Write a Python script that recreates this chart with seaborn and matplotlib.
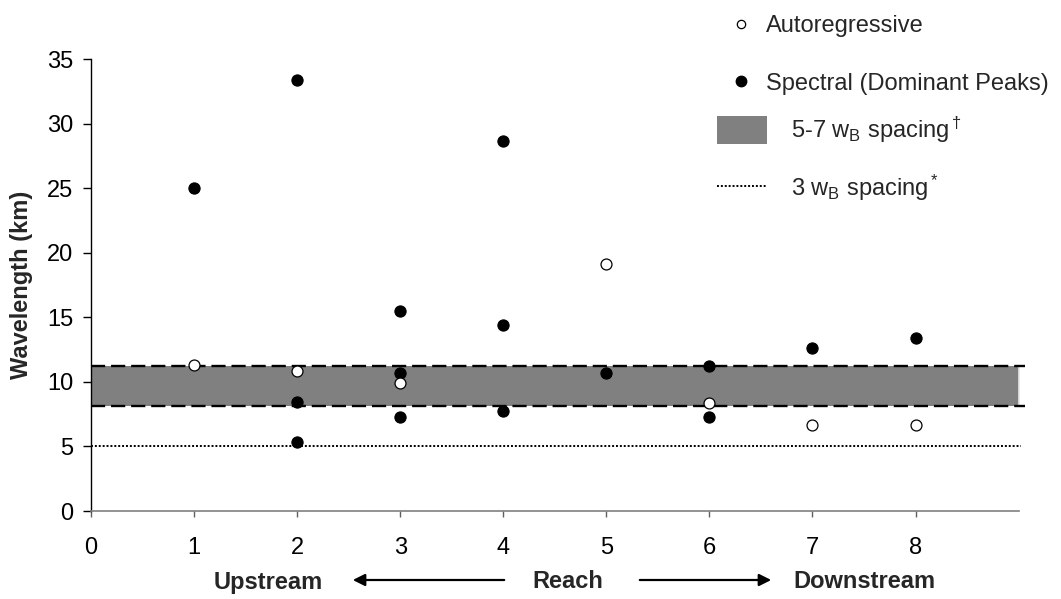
import matplotlib
matplotlib.use("Agg")
import matplotlib.pyplot as plt
import seaborn as sns
import pandas as pd
from matplotlib.lines import Line2D
from matplotlib.patches import Patch, FancyArrowPatch

# Data
reach_ar = [1, 2, 3, 5, 6, 7, 8]
wavelength_ar = [11.3, 10.85, 9.9, 19.1, 8.4, 6.65, 6.65]

reach_spec = [1, 2, 2, 2, 3, 3, 3, 4, 4, 4, 5, 6, 6, 7, 8]
wavelength_spec = [25.0, 33.4, 8.45, 5.35, 15.45, 10.65, 7.25,
                   28.65, 14.4, 7.75, 10.65, 11.25, 7.25, 12.65, 13.4]

band_low, band_high = 8.15, 11.25   # 5-7 w_B spacing
spacing_3wb = 5.0                   # 3 w_B spacing
x_extent = [0, 9]

sns.set_style("white")
plt.rcParams['font.family'] = ['Liberation Sans', 'DejaVu Sans']
plt.rcParams['mathtext.fontset'] = 'custom'
plt.rcParams['mathtext.rm'] = 'Liberation Sans'
plt.rcParams['mathtext.it'] = 'Liberation Sans:italic'
plt.rcParams['mathtext.bf'] = 'Liberation Sans:bold'

FS = 17

df_ar = pd.DataFrame({'reach': reach_ar, 'wavelength': wavelength_ar})
df_spec = pd.DataFrame({'reach': reach_spec, 'wavelength': wavelength_spec})

fig = plt.figure(figsize=(10.61, 5.99), dpi=100)
ax = fig.add_axes([0.0858, 0.1469, 0.8742, 0.7546])

# band and reference lines
ax.fill_between(x_extent, band_low, band_high, color='#808080', lw=0, zorder=1)
ax.vlines(x_extent[1], band_low, band_high, colors='#e6e6e6', lw=1.2,
          zorder=1.5, clip_on=False)
ax.hlines([band_low, band_high], x_extent[0], x_extent[1] + 0.06, colors='black',
          linestyles=(0, (6, 2.5)), lw=1.7, zorder=2, clip_on=False)
ax.hlines(spacing_3wb, x_extent[0], x_extent[1] + 0.02, colors='black',
          linestyles=(0, (1, 1)), lw=1.4, zorder=2, clip_on=False)

sns.scatterplot(data=df_spec, x='reach', y='wavelength', ax=ax, color='black',
                s=65, edgecolor='black', linewidth=0.8, legend=False, zorder=3)
sns.scatterplot(data=df_ar, x='reach', y='wavelength', ax=ax, facecolor='white',
                s=62, edgecolor='black', linewidth=0.9, legend=False, zorder=4)

ax.set_xlim(0, 9)
ax.set_ylim(0, 35)
ax.set_xticks(range(0, 9))
ax.set_yticks(range(0, 36, 5))
ax.set_xlabel('')
ax.set_ylabel('Wavelength (km)', fontsize=FS, fontweight='bold')
ax.yaxis.set_label_coords(-0.0626, 0.5)

sns.despine(ax=ax)
ax.spines['left'].set_color('black')
ax.spines['left'].set_linewidth(1.0)
ax.spines['bottom'].set_color('#808080')
ax.spines['bottom'].set_linewidth(1.2)
ax.tick_params(axis='y', direction='out', length=5.8, width=1, colors='black',
               labelsize=FS, pad=7, left=True)
ax.tick_params(axis='x', direction='out', length=4.5, width=1, color='#606060',
               labelcolor='black', labelsize=FS, pad=14, bottom=True)

# legend: point markers
marker_handles = [
    Line2D([], [], marker='o', ls='', markersize=6, markerfacecolor='white',
           markeredgecolor='black', markeredgewidth=0.9),
    Line2D([], [], marker='o', ls='', markersize=7.5, markerfacecolor='black',
           markeredgecolor='black'),
]
leg1 = fig.legend(marker_handles, ['Autoregressive', 'Spectral (Dominant Peaks)'],
                  loc='center left', bbox_to_anchor=(729 / 1061, 1 - 55 / 599),
                  frameon=False, fontsize=FS, handlelength=1.0,
                  handletextpad=0.55, labelspacing=1.5, borderpad=0,
                  borderaxespad=0)

# legend: band and line
ref_handles = [
    Patch(facecolor='#808080', edgecolor='none'),
    Line2D([], [], color='black', ls=(0, (1, 1)), lw=1.4),
]
leg2 = fig.legend(ref_handles, [r'5-7 w$_\mathrm{B}$ spacing$^\dagger$',
                                r'3 w$_\mathrm{B}$ spacing$^*$'],
                  loc='center left', bbox_to_anchor=(717 / 1061, 1 - 159 / 599),
                  frameon=False, fontsize=FS, handlelength=2.1,
                  handleheight=1.4, handletextpad=1.05, labelspacing=1.2,
                  borderpad=0, borderaxespad=0)

# direction annotation under the axis
ytxt = 1 - 582 / 599
fig.text(268 / 1061, ytxt, 'Upstream', ha='center', va='center', fontsize=FS,
         fontweight='bold')
fig.text(568 / 1061, ytxt, 'Reach', ha='center', va='center', fontsize=FS,
         fontweight='bold')
fig.text(864 / 1061, ytxt, 'Downstream', ha='center', va='center', fontsize=FS,
         fontweight='bold')
yarr = 1 - 580 / 599
fig.add_artist(FancyArrowPatch(
    (507 / 1061, yarr), (350 / 1061, yarr), transform=fig.transFigure,
    arrowstyle='-|>', mutation_scale=18, lw=1.6, color='black'))
fig.add_artist(FancyArrowPatch(
    (637 / 1061, yarr), (774 / 1061, yarr), transform=fig.transFigure,
    arrowstyle='-|>', mutation_scale=18, lw=1.6, color='black'))

fig.savefig('out.png', dpi=100)
